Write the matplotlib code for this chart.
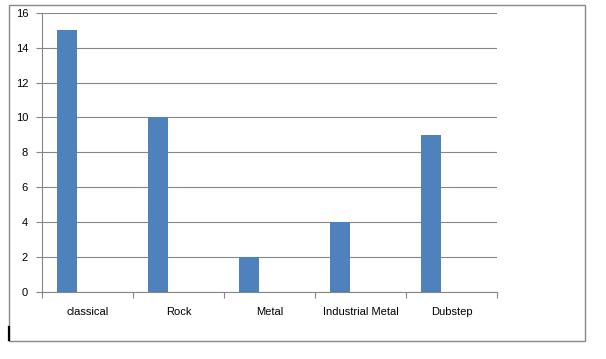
import matplotlib.pyplot as plt
from matplotlib.patches import Rectangle
from matplotlib.lines import Line2D

genres = ['classical', 'Rock', 'Metal', 'Industrial Metal', 'Dubstep']
counts = [15, 10, 2, 4, 9]
y_ticks = [0, 2, 4, 6, 8, 10, 12, 14, 16]

# Excel layout: 3 series slots per category, gap width 150%
bar_w = 1 / 4.5
bar_off = 1.25 / 4.5


def main():
    plt.rcParams['font.family'] = ['Liberation Sans', 'DejaVu Sans']
    fig = plt.figure(figsize=(6.06, 3.59), dpi=100)
    ax = fig.add_axes([42 / 606, 1 - 291.5 / 359, 455 / 606, 278.5 / 359])

    grid_c = '#878787'
    xs = [i + bar_off for i in range(len(genres))]
    ax.bar(xs, counts, width=bar_w, color='#4F81BD', zorder=3)

    ax.set_xlim(0, len(genres))
    ax.set_ylim(0, 16)
    ax.set_yticks(y_ticks)
    ax.set_xticks(range(len(genres) + 1))
    ax.set_xticklabels([])
    ax.set_xticks([i + 0.5 for i in range(len(genres))], minor=True)
    ax.set_xticklabels(genres, minor=True)
    ax.tick_params(axis='x', which='minor', length=0, pad=11, labelsize=8)
    ax.tick_params(axis='x', which='major', length=4, color=grid_c)
    ax.tick_params(axis='y', length=4, color=grid_c, labelsize=8, pad=6)

    ax.grid(axis='y', color=grid_c, linewidth=0.8, zorder=0)
    for s in ['top', 'right']:
        ax.spines[s].set_visible(False)
    for s in ['left', 'bottom']:
        ax.spines[s].set_color(grid_c)
        ax.spines[s].set_linewidth(0.8)

    # outer chart border
    fig.patches.append(Rectangle((9 / 606, 1 - 341 / 359), 576 / 606, 336 / 359,
                                 transform=fig.transFigure, fill=False,
                                 edgecolor='#888888', linewidth=1))
    # stray cursor mark at the bottom left
    fig.lines.append(Line2D([8.5 / 606, 8.5 / 606], [1 - 340 / 359, 1 - 327 / 359],
                            transform=fig.transFigure, color='black', linewidth=1.6))

    fig.savefig('out.png', dpi=100)


if __name__ == '__main__':
    main()
